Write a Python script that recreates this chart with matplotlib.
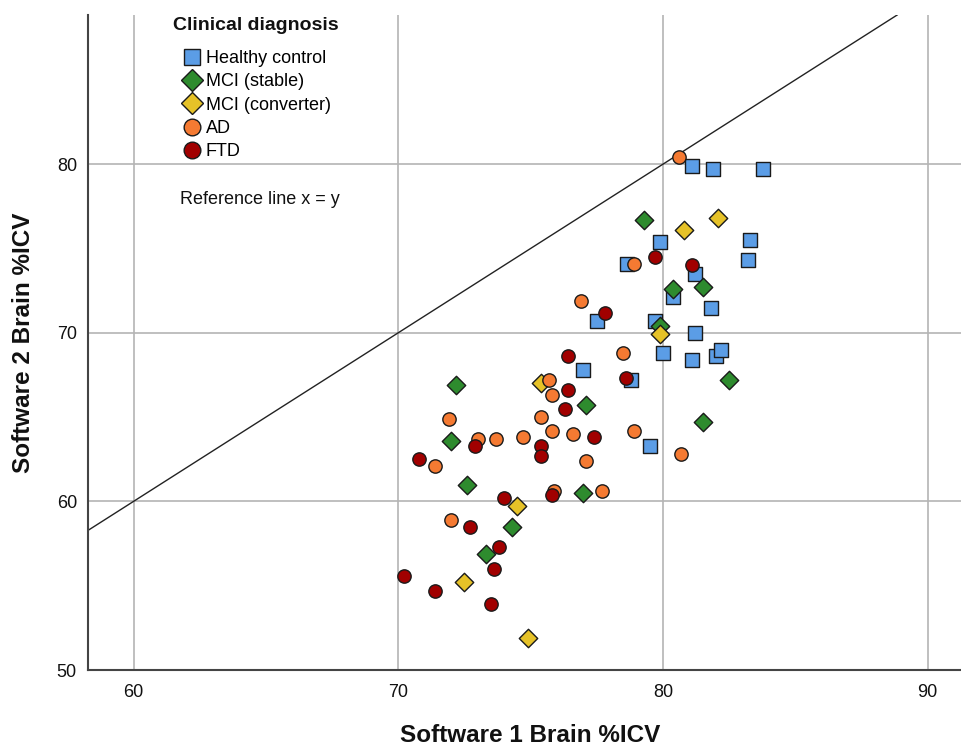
import matplotlib
matplotlib.use("Agg")
import matplotlib.pyplot as plt
from matplotlib.lines import Line2D

plt.rcParams['font.family'] = ['Liberation Sans', 'DejaVu Sans']

# ---- data (Software 1 %ICV, Software 2 %ICV) ----
hc_x = [81.1, 81.9, 83.8, 79.9, 83.3, 83.2, 78.65, 81.2, 80.4, 81.8,
        77.5, 79.7, 81.2, 80.0, 81.1, 82.0, 82.2, 77.0, 78.8, 79.5]
hc_y = [79.9, 79.7, 79.7, 75.4, 75.5, 74.3, 74.1, 73.5, 72.1, 71.5,
        70.7, 70.7, 70.0, 68.8, 68.4, 68.6, 69.0, 67.8, 67.2, 63.3]

mcis_x = [79.3, 80.4, 81.5, 79.9, 82.5, 72.2, 77.1, 72.0, 72.6, 77.0, 74.3, 73.3, 81.5]
mcis_y = [76.7, 72.6, 72.7, 70.4, 67.2, 66.9, 65.7, 63.6, 61.0, 60.5, 58.5, 56.9, 64.7]

mcic_x = [82.1, 80.8, 79.9, 75.4, 74.5, 72.5, 74.9]
mcic_y = [76.8, 76.1, 69.9, 67.0, 59.7, 55.2, 51.9]

ad_x = [80.6, 78.9, 76.9, 78.5, 75.7, 75.8, 71.9, 73.0, 73.7, 74.7,
        75.8, 75.4, 76.6, 78.9, 71.4, 77.1, 75.9, 77.7, 80.7, 72.0]
ad_y = [80.4, 74.1, 71.9, 68.8, 67.2, 66.3, 64.9, 63.7, 63.7, 63.8,
        64.2, 65.0, 64.0, 64.2, 62.1, 62.4, 60.6, 60.6, 62.8, 58.9]

ftd_x = [79.7, 81.1, 77.8, 76.4, 78.6, 76.4, 76.3, 77.4, 72.9, 75.4,
         75.4, 70.8, 75.8, 74.0, 72.7, 73.8, 73.6, 70.2, 71.4, 73.5]
ftd_y = [74.5, 74.0, 71.2, 68.6, 67.3, 66.6, 65.5, 63.8, 63.3, 63.3,
         62.7, 62.5, 60.4, 60.2, 58.5, 57.3, 56.0, 55.6, 54.7, 53.9]

groups = ["Healthy control", "MCI (stable)", "MCI (converter)", "AD", "FTD"]
xticks = [60, 70, 80, 90]
yticks = [50, 60, 70, 80]

colors = ["#5b9de6", "#2e8b2e", "#e6c228", "#f57a32", "#a10000"]
markers = ["s", "D", "D", "o", "o"]
sizes = [90, 88, 88, 92, 92]
leg_sizes = [12.0, 11.0, 11.0, 12.0, 12.0]
data = [(hc_x, hc_y), (mcis_x, mcis_y), (mcic_x, mcic_y), (ad_x, ad_y), (ftd_x, ftd_y)]

fig = plt.figure(figsize=(9.62, 7.46), dpi=100)
ax = fig.add_axes([88/962, 76/746, 1 - 88/962, (670 - 15)/746])

ax.set_xlim(58.28, 91.3)
ax.set_ylim(50, 88.85)
ax.set_xticks(xticks)
ax.set_yticks(yticks)
ax.tick_params(length=0, labelsize=13, colors='#111111')
ax.tick_params(axis='y', pad=8)
ax.tick_params(axis='x', pad=10)
ax.grid(True, color='#b4b4b4', linewidth=1.2)
ax.set_axisbelow(True)
for s in ['top', 'right']:
    ax.spines[s].set_visible(False)
for s in ['left', 'bottom']:
    ax.spines[s].set_color('#444444')
    ax.spines[s].set_linewidth(1.5)

ax.axline((60, 60), slope=1, color='#222222', linewidth=1.0, zorder=2)

for (xs, ys), c, m, sz in zip(data, colors, markers, sizes):
    ax.scatter(xs, ys, s=sz, c=c, marker=m, edgecolors='#1a1a1a', linewidths=1.0, zorder=3)

handles = [Line2D([], [], linestyle='none', marker=m, markersize=ms,
                  markerfacecolor=c, markeredgecolor='#1a1a1a', markeredgewidth=1.0)
           for c, m, ms in zip(colors, markers, leg_sizes)]
leg = ax.legend(handles, groups, loc='upper left',
                bbox_to_anchor=(184/962, 1 - 50/746), bbox_transform=fig.transFigure,
                frameon=False, fontsize=13,
                handlelength=0.9, handletextpad=0.3, labelspacing=0.35, borderpad=0,
                borderaxespad=0)

fig.text(256/962, 1 - 25/746, "Clinical diagnosis", fontsize=14, fontweight='bold',
         ha='center', va='center', color='#111111')
fig.text(180/962, 1 - 199/746, "Reference line x = y", fontsize=13, ha='left', va='center',
         color='#111111')

fig.text(530/962, 1 - 735/746, "Software 1 Brain %ICV", fontsize=17.5, fontweight='bold',
         ha='center', va='center', color='#111111')
fig.text(24/962, 1 - 343/746, "Software 2 Brain %ICV", fontsize=17.5, fontweight='bold',
         ha='center', va='center', rotation=90, color='#111111')

fig.savefig("out.png", dpi=100)
